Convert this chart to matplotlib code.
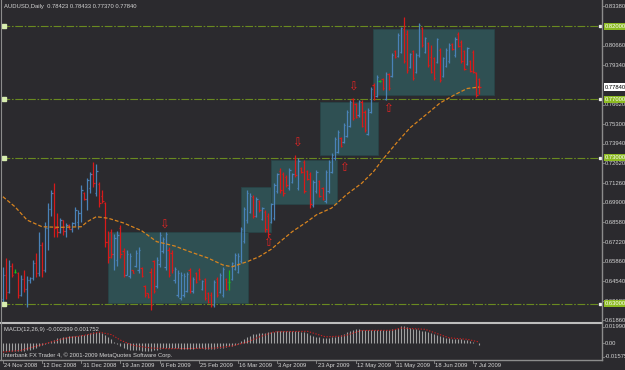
import matplotlib
matplotlib.use('Agg')
import matplotlib.pyplot as plt
import matplotlib.transforms as mtransforms
from matplotlib.patches import Rectangle
from matplotlib.lines import Line2D

plt.rcParams['font.family'] = ['Liberation Sans', 'DejaVu Sans']

# ---- daily AUDUSD bars (one per trading day, 24 Nov 2008 .. Jul 2009) ----
bar_open = [
    .6330, .6500, .6380, .6560, .6520, .6510, .6360, .6470, .6400, .6460,
    .6475, .6580, .6510, .6700, .6530, .6820, .6950, .7060, .6820, .6790,
    .6870, .6800, .6840, .6815, .6850, .6860, .6920, .7060, .7020, .7090,
    .7190, .7060, .7120, .7040, .6990, .6720, .6790, .6640, .6600, .6820,
    .6660, .6500, .6490, .6528, .6560, .6530, .6545, .6420, .6370, .6520,
    .6590, .6420, .6570, .6660, .6550, .6670, .6650, .6460, .6360, .6340,
    .6360, .6390, .6530, .6385, .6510, .6530, .6400, .6470, .6370, .6360,
    .6290, .6470, .6380, .6360, .6470, .6450, .6470, .6540, .6520, .6590,
    .6730, .6870, .6930, .7030, .6900, .7000, .6880, .6930, .6900, .6860,
    .6890, .7070, .7210, .7190, .7170, .7090, .7135, .7300, .7090, .7230,
    .7270, .7210, .7190, .6975, .7070, .7140, .7090, .7000, .7070, .7205,
    .7295, .7340, .7435, .7410, .7450, .7520, .7700, .7665, .7590, .7680,
    .7615, .7465, .7615, .7800, .7725, .7825, .7840, .7705, .7870, .7860,
    .8030, .7995, .8025, .8180, .8150, .7920, .8030, .7890, .8000, .8190,
    .8025, .8085, .7990, .7980, .7955, .8040, .7860, .7930, .7960, .8080,
    .8000, .8150, .8095, .8030, .7940, .7960, .8025, .7880, .78423]
bar_high = [
    .6550, .6610, .6600, .6580, .6540, .6515, .6500, .6530, .6490, .6480,
    .6600, .6650, .6790, .6720, .6860, .6990, .7080, .7130, .6920, .6890,
    .6875, .6850, .6845, .6860, .6960, .6940, .7110, .7065, .7160, .7200,
    .7270, .7260, .7135, .7080, .6995, .6800, .6810, .6780, .6800, .6840,
    .6680, .6670, .6647, .6531, .6668, .6688, .6551, .6428, .6373, .6545,
    .6599, .6620, .6791, .6757, .6790, .6688, .6668, .6551, .6531, .6517,
    .6510, .6517, .6545, .6483, .6517, .6545, .6462, .6476, .6380, .6380,
    .6462, .6483, .6510, .6551, .6476, .6531, .6586, .6647, .6647, .6825,
    .6963, .7079, .7059, .7045, .7031, .7010, .6963, .6942, .6921, .6990,
    .7127, .7195, .7230, .7202, .7182, .7230, .7195, .7318, .7298, .7236,
    .7284, .7216, .7202, .7147, .7216, .7147, .7099, .7216, .7284, .7332,
    .7442, .7490, .7442, .7538, .7627, .7695, .7709, .7675, .7695, .7695,
    .7627, .7640, .7784, .7812, .7866, .7832, .7846, .7887, .7880, .8017,
    .8038, .8154, .8195, .8264, .8175, .8017, .8038, .8017, .8223, .8195,
    .8127, .8092, .8072, .7990, .8120, .8051, .7990, .8051, .8086, .8086,
    .8127, .8161, .8106, .8038, .8058, .7969, .8038, .7887, .78433]
bar_low = [
    .6285, .6330, .6370, .6480, .6510, .6340, .6350, .6380, .6280, .6440,
    .6460, .6480, .6490, .6480, .6520, .6670, .6900, .6760, .6760, .6785,
    .6770, .6760, .6810, .6790, .6830, .6810, .6860, .7010, .6940, .7060,
    .7100, .7040, .6960, .6990, .6690, .6580, .6610, .6530, .6560, .6610,
    .6480, .6500, .6476, .6510, .6551, .6510, .6483, .6346, .6339, .6257,
    .6373, .6407, .6551, .6647, .6531, .6483, .6510, .6442, .6346, .6325,
    .6346, .6380, .6373, .6373, .6442, .6462, .6394, .6325, .6305, .6277,
    .6277, .6346, .6373, .6346, .6394, .6394, .6462, .6531, .6510, .6579,
    .6716, .6853, .6921, .6887, .6894, .6928, .6873, .6791, .6757, .6853,
    .6873, .7058, .7058, .7038, .7099, .7079, .7127, .7168, .7079, .7195,
    .7058, .7147, .6956, .6963, .7058, .7031, .7010, .6990, .7058, .7195,
    .7284, .7332, .7373, .7401, .7442, .7510, .7558, .7572, .7579, .7510,
    .7476, .7456, .7606, .7695, .7716, .7818, .7764, .7695, .7764, .7853,
    .7983, .7990, .8017, .7949, .7880, .7914, .7832, .7880, .7990, .8058,
    .8017, .7921, .7880, .7832, .7949, .7818, .7853, .7921, .7949, .8038,
    .7990, .8058, .7949, .7901, .7935, .7887, .7880, .7716, .77370]
bar_close = [
    .6500, .6380, .6560, .6500, .6520, .6360, .6470, .6400, .6460, .6475,
    .6580, .6510, .6700, .6530, .6820, .6950, .7060, .6820, .6790, .6870,
    .6800, .6840, .6815, .6850, .6940, .6920, .7080, .7020, .7150, .7190,
    .7130, .7210, .6990, .7000, .6720, .6620, .6640, .6750, .6770, .6640,
    .6500, .6640, .6630, .6512, .6650, .6670, .6490, .6360, .6345, .6290,
    .6390, .6600, .6770, .6740, .6780, .6500, .6530, .6540, .6510, .6500,
    .6490, .6505, .6390, .6470, .6450, .6470, .6455, .6340, .6315, .6290,
    .6450, .6360, .6500, .6540, .6400, .6450, .6580, .6635, .6630, .6810,
    .6950, .7060, .7040, .6900, .7020, .6940, .6955, .6810, .6780, .6980,
    .7110, .7185, .7080, .7060, .7110, .7215, .7185, .7180, .7280, .7200,
    .7070, .7155, .6980, .7135, .7200, .7040, .7020, .7205, .7270, .7320,
    .7430, .7475, .7380, .7525, .7615, .7680, .7570, .7580, .7685, .7520,
    .7490, .7630, .7770, .7705, .7850, .7825, .7775, .7870, .7775, .8005,
    .7990, .8140, .8185, .7960, .7900, .8010, .7845, .8005, .8210, .8070,
    .8120, .7935, .7890, .7845, .8110, .7830, .7980, .8040, .8075, .8045,
    .8115, .8065, .7960, .7910, .8050, .7895, .7890, .7730, .77840]

# moving average (at selected bars)
ma_idx = [0, 4, 8, 13, 19, 26, 28, 31, 35, 40, 46, 51, 57, 62, 68, 73, 76, 81,
          85, 89, 92, 96, 101, 104, 109, 114, 119, 123, 126, 131, 135, 141, 145,
          150, 154, 158]
ma_val = [.7033, .6964, .6873, .6827, .6823, .6827, .6862, .6896, .6885, .6853,
          .6800, .6725, .6695, .6656, .6613, .6565, .6553, .6588, .6622, .6673,
          .6726, .6794, .6863, .6909, .6955, .7048, .7125, .7207, .7289, .7412,
          .7504, .7606, .7675, .7733, .7774, .7784]

# MACD(12,26,9) histogram, one value per bar
macd_hist = [
    -0.0090, -0.0092, -0.0093, -0.0092, -0.0090, -0.0088, -0.0087, -0.0085, -0.0080, -0.0072,
    -0.0063, -0.0050, -0.0035, -0.0020, -0.0005, 0.0012, 0.0030, 0.0046, 0.0060, 0.0070,
    0.0078, 0.0082, 0.0085, 0.0088, 0.0090, 0.0093, 0.0098, 0.0105, 0.0115, 0.0124,
    0.0132, 0.0136, 0.0134, 0.0125, 0.0105, 0.0080, 0.0050, 0.0020, -0.0010, -0.0035,
    -0.0055, -0.0068, -0.0076, -0.0080, -0.0082, -0.0083, -0.0084, -0.0085, -0.0086, -0.0085,
    -0.0080, -0.0072, -0.0064, -0.0058, -0.0052, -0.0050, -0.0052, -0.0055, -0.0058, -0.0060,
    -0.0062, -0.0063, -0.0062, -0.0060, -0.0058, -0.0057, -0.0058, -0.0060, -0.0062, -0.0063,
    -0.0061, -0.0058, -0.0054, -0.0048, -0.0042, -0.0036, -0.0028, -0.0020, -0.0008, 0.0025,
    0.0050, 0.0075, 0.0095, 0.0110, 0.0118, 0.0124, 0.0128, 0.0130, 0.0132, 0.0136,
    0.0142, 0.0146, 0.0148, 0.0148, 0.0146, 0.0145, 0.0146, 0.0147, 0.0145, 0.0142,
    0.0138, 0.0125, 0.0105, 0.0088, 0.0078, 0.0072, 0.0066, 0.0064, 0.0066, 0.0072,
    0.0082, 0.0095, 0.0106, 0.0118, 0.0135, 0.0152, 0.0165, 0.0170, 0.0168, 0.0166,
    0.0162, 0.0160, 0.0160, 0.0162, 0.0164, 0.0166, 0.0165, 0.0164, 0.0166, 0.0168,
    0.0175, 0.0190, 0.0205, 0.0212, 0.0200, 0.0188, 0.0176, 0.0168, 0.0160, 0.0155,
    0.0150, 0.0140, 0.0125, 0.0112, 0.0100, 0.0090, 0.0078, 0.0068, 0.0060, 0.0056,
    0.0054, 0.0052, 0.0050, 0.0046, 0.0040, 0.0030, 0.0020, 0.0008, -0.002399]
sig_idx = [0, 6, 10, 16, 21, 27, 32, 36, 39, 43, 49, 55, 62, 70, 76, 81, 85, 90,
           101, 107, 113, 119, 129, 132, 140, 148, 154, 158]
sig_val = [-0.0102, -0.0082, -0.0042, 0.0018, 0.0066, 0.0098, 0.0136, 0.0106,
           0.0040, -0.0022, -0.0054, -0.0062, -0.0060, -0.0056, -0.0030, 0.0018,
           0.0078, 0.0140, 0.0146, 0.0080, 0.0090, 0.0156, 0.0158, 0.0185,
           0.0170, 0.0068, 0.0050, 0.001752]

# rectangles, horizontal levels and arrows drawn on the chart
box_start = [34.9, 79.0, 88.9, 105.1, 122.9]
box_end = [81.4, 88.9, 110.9, 124.5, 162.9]
box_low = [0.6303, 0.6791, 0.6983, 0.7316, 0.7730]
box_high = [0.6789, 0.7101, 0.7284, 0.7684, 0.8180]
levels = [0.82, 0.77, 0.73, 0.63]
arrow_idx = [53.4, 87.9, 97.5, 113.1, 116.1, 127.7]
arrow_price = [0.6838, 0.6716, 0.7401, 0.7236, 0.7781, 0.7634]
arrow_dir = ['down', 'up', 'down', 'up', 'down', 'up']

price_ticks = [0.8338, 0.8066, 0.7934, 0.7662, 0.7530, 0.7394, 0.7262, 0.7126,
               0.6990, 0.6858, 0.6722, 0.6586, 0.6454, 0.6318, 0.6186]
date_labels = ['24 Nov 2008', '12 Dec 2008', '31 Dec 2008', '19 Jan 2009',
               '6 Feb 2009', '25 Feb 2009', '16 Mar 2009', '3 Apr 2009',
               '23 Apr 2009', '12 May 2009', '31 May 2009', '18 Jun 2009',
               '7 Jul 2009']
date_step = 13

BG = '#2b2a2e'
UP = '#4a82b8'
DN = '#d81a1a'
DOJI = '#18c018'
TXT = '#d4d4d4'
AXC = '#8c8c8c'
FS = 4.2

W, H = 625, 370
fig = plt.figure(figsize=(6.25, 3.70), dpi=100, facecolor=BG)


def px_box(x0, y0, x1, y1):
    return [x0 / W, 1 - y1 / H, (x1 - x0) / W, (y1 - y0) / H]


ax = fig.add_axes(px_box(2, 2, 602, 321.5))
mx = fig.add_axes(px_box(2, 324, 602, 359))
for a in (ax, mx):
    a.set_facecolor(BG)
    a.set_xlim(-0.3, 198.7)
    a.set_xticks([])
    a.set_yticks([])
    for s in a.spines.values():
        s.set_visible(False)
ax.set_ylim(0.61781, 0.83664)
mx.set_ylim(-0.01859, 0.02338)

# rectangles
for x0, x1, lo, hi in zip(box_start, box_end, box_low, box_high):
    ax.add_patch(Rectangle((x0, lo), x1 - x0, hi - lo, facecolor='#2f5053',
                           edgecolor='#284446', lw=0.6, zorder=1))

# level lines
for p in levels:
    ax.axhline(p, color='#6a8a20', lw=0.8, ls=(0, (7, 1.5, 1.5, 1.5)), zorder=2)
    ax.plot([0.3], [p], marker='s', ms=2.2, mfc='#d8eeb0', mec='#d8eeb0', zorder=4)
    ax.plot([198.0], [p], marker='s', ms=2.0, mfc='#f0f0f0', mec='#f0f0f0', zorder=4)

# OHLC bars
for i, (o, h, l, c) in enumerate(zip(bar_open, bar_high, bar_low, bar_close)):
    col = DOJI if o == c else (UP if c > o else DN)
    ax.vlines(i, l, h, color=col, lw=0.9, zorder=3)
    ax.hlines(o, i - 0.45, i, color=col, lw=0.9, zorder=3)
    ax.hlines(c, i, i + 0.45, color=col, lw=0.9, zorder=3)

# moving average
ax.plot(ma_idx, ma_val, color='#d8841f', lw=0.9, ls=(0, (3, 1.6)), zorder=3)

# arrows
for xi, p, d in zip(arrow_idx, arrow_price, arrow_dir):
    ax.text(xi, p, '\u21e9' if d == 'down' else '\u21e7', color='#e02525',
            fontsize=8.5, family='DejaVu Sans', ha='center', va='center', zorder=5)

# MACD panel
mx.vlines(range(len(macd_hist)), 0, macd_hist, color='#a0a0a0', lw=0.8)
mx.plot(sig_idx, sig_val, color='#c82020', lw=0.8, ls=(0, (1.2, 1.4)))

# right price scale
tr = mtransforms.blended_transform_factory(ax.transAxes, ax.transData)
for v in price_ticks:
    ax.plot([1.0, 1.004], [v, v], transform=tr, color=AXC, lw=0.6, clip_on=False)
    ax.text(1.0045, v, f'{v:.5f}', transform=tr, color=TXT, fontsize=FS,
            va='center', ha='left', clip_on=False)
for p in levels:
    ax.text(1.0045, p, f'{p:.5f}', transform=tr, color='#ffffff', fontsize=FS,
            va='center', ha='left', clip_on=False, zorder=6,
            bbox=dict(boxstyle='square,pad=0.2', fc='#8cba22', ec='none'))
ax.text(1.0045, bar_close[-1], f'{bar_close[-1]:.5f}', transform=tr,
        color='#000000', fontsize=FS, va='center', ha='left', clip_on=False, zorder=6,
        bbox=dict(boxstyle='square,pad=0.2', fc='#ffffff', ec='none'))

trm = mtransforms.blended_transform_factory(mx.transAxes, mx.transData)
for v, s in [(0.019907, '0.019907'), (0.0, '0.00'), (-0.01575, '-0.01575')]:
    mx.plot([1.0, 1.004], [v, v], transform=trm, color=AXC, lw=0.6, clip_on=False)
    mx.text(1.0045, v, s, transform=trm, color=TXT, fontsize=FS,
            va='center', ha='left', clip_on=False)

# frame lines
fig.add_artist(Line2D([0, 602 / W], [1 - 322.8 / H] * 2, color='#bdbdbd', lw=1.5))
fig.add_artist(Line2D([0, 602 / W], [1 - 359.6 / H] * 2, color=AXC, lw=1.0))
fig.add_artist(Line2D([602 / W] * 2, [1.0, 1 - 360 / H], color=AXC, lw=1.0))
fig.add_artist(Line2D([1.0 / W] * 2, [1.0, 1 - 360 / H], color=AXC, lw=0.8))

# date axis
trd = mtransforms.blended_transform_factory(mx.transData, fig.transFigure)
for k, lab in enumerate(date_labels):
    xi = k * date_step
    fig.add_artist(Line2D([xi, xi], [1 - 359.6 / H, 1 - 362.5 / H], transform=trd,
                          color=AXC, lw=0.6))
    fig.text(xi + 0.4, 1 - 365.5 / H, lab, transform=trd, color=TXT, fontsize=FS,
             va='center', ha='left')

# captions
fig.text(4 / W, 1 - 6.5 / H, 'AUDUSD,Daily  0.78423 0.78433 0.77370 0.77840',
         color=TXT, fontsize=FS, va='center', ha='left')
fig.text(4 / W, 1 - 329.5 / H, 'MACD(12,26,9) -0.002399 0.001752',
         color=TXT, fontsize=FS, va='center', ha='left')
fig.text(3 / W, 1 - 355 / H,
         'Interbank FX Trader 4, \u00a9 2001-2009 MetaQuotes Software Corp.',
         color=TXT, fontsize=FS, va='center', ha='left')

fig.savefig('out.png', dpi=100, facecolor=BG)
